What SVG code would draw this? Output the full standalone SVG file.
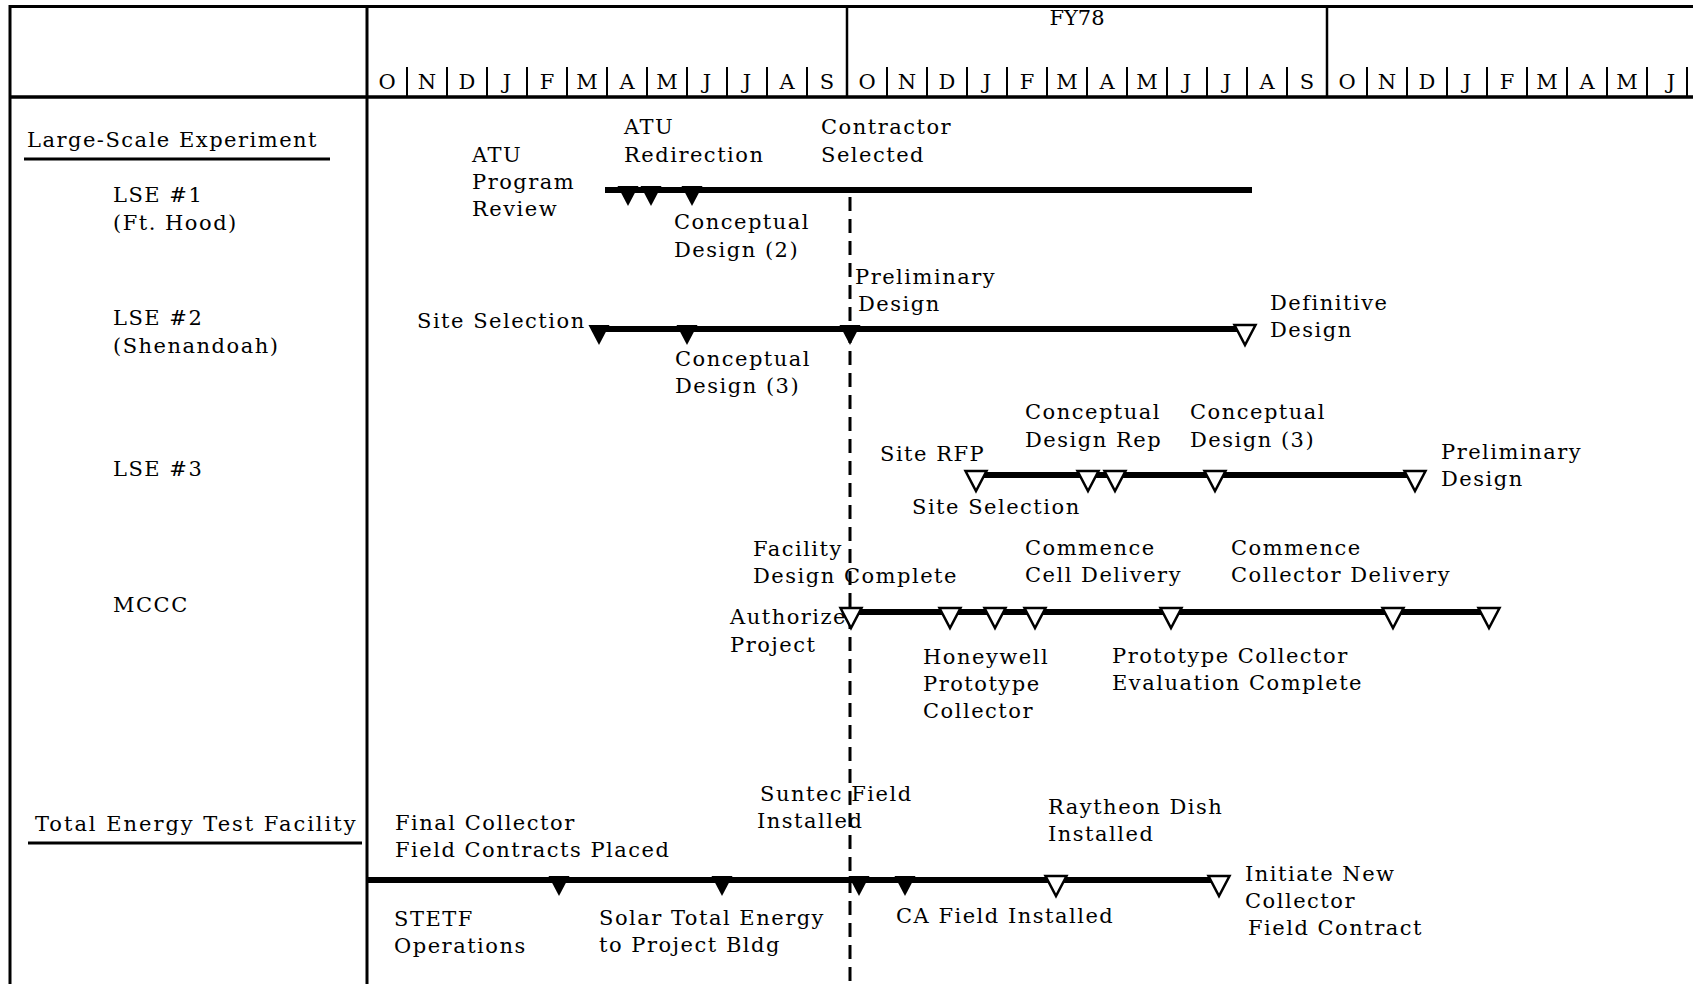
<svg xmlns="http://www.w3.org/2000/svg" xmlns:xlink="http://www.w3.org/1999/xlink" width="1693" height="984" viewBox="0 0 1693 984">
<style>
text{font-family:"DejaVu Serif","Liberation Serif",serif;font-size:21px;letter-spacing:1.5px;fill:#000}
.m{text-anchor:middle;letter-spacing:0}
.grid{stroke:#000;fill:none}
.bar{stroke:#000;stroke-width:6;fill:none}
.f{fill:#000}
.o{fill:#fff;stroke:#000;stroke-width:2.5}
.dash{stroke:#000;stroke-width:3;stroke-dasharray:14 8;fill:none}
</style>
<defs>
<path id="tri" d="M-10.5,-4 L10.5,-4 L0,16 Z"/>
</defs>
<rect width="1693" height="984" fill="#fff"/>
<g id="grid" class="grid">
<line x1="10" y1="6.5" x2="1693" y2="6.5" stroke-width="3"/>
<line x1="10" y1="5" x2="10" y2="984" stroke-width="3"/>
<line x1="10" y1="97" x2="1693" y2="97" stroke-width="3.5"/>
<line x1="367" y1="5" x2="367" y2="984" stroke-width="3"/>
<line x1="847" y1="5" x2="847" y2="97" stroke-width="2.5"/>
<line x1="1327" y1="5" x2="1327" y2="97" stroke-width="2.5"/>
<path stroke-width="2" d="M407,67V97M447,67V97M487,67V97M527,67V97M567,67V97M607,67V97M647,67V97M687,67V97M727,67V97M767,67V97M807,67V97M887,67V97M927,67V97M967,67V97M1007,67V97M1047,67V97M1087,67V97M1127,67V97M1167,67V97M1207,67V97M1247,67V97M1287,67V97M1367,67V97M1407,67V97M1447,67V97M1487,67V97M1527,67V97M1567,67V97M1607,67V97M1647,67V97M1687,67V97"/>
</g>
<g id="header">
<text x="1077" y="25" class="m">FY78</text>
<text class="m" y="89"><tspan x="387">O</tspan><tspan x="427">N</tspan><tspan x="467">D</tspan><tspan x="507">J</tspan><tspan x="547">F</tspan><tspan x="587">M</tspan><tspan x="627">A</tspan><tspan x="667">M</tspan><tspan x="707">J</tspan><tspan x="747">J</tspan><tspan x="787">A</tspan><tspan x="827">S</tspan><tspan x="867">O</tspan><tspan x="907">N</tspan><tspan x="947">D</tspan><tspan x="987">J</tspan><tspan x="1027">F</tspan><tspan x="1067">M</tspan><tspan x="1107">A</tspan><tspan x="1147">M</tspan><tspan x="1187">J</tspan><tspan x="1227">J</tspan><tspan x="1267">A</tspan><tspan x="1307">S</tspan><tspan x="1347">O</tspan><tspan x="1387">N</tspan><tspan x="1427">D</tspan><tspan x="1467">J</tspan><tspan x="1507">F</tspan><tspan x="1547">M</tspan><tspan x="1587">A</tspan><tspan x="1627">M</tspan><tspan x="1671">J</tspan></text>
</g>
<g id="labels">
<text x="27" y="147">Large-Scale Experiment</text>
<line x1="24" y1="159" x2="330" y2="159" stroke="#000" stroke-width="3"/>
<text x="113" y="202">LSE #1</text>
<text x="113" y="230">(Ft. Hood)</text>
<text x="113" y="325">LSE #2</text>
<text x="113" y="353">(Shenandoah)</text>
<text x="113" y="476">LSE #3</text>
<text x="113" y="612">MCCC</text>
<text x="35" y="831" textLength="322">Total Energy Test Facility</text>
<line x1="28" y1="843" x2="362" y2="843" stroke="#000" stroke-width="3"/>
</g>
<g id="connectors">
<line class="dash" x1="850" y1="197" x2="850" y2="984"/>
<line class="bar" x1="605" y1="190" x2="1252" y2="190"/>
<line class="bar" x1="592" y1="329" x2="1242" y2="329"/>
<line class="bar" x1="975" y1="475" x2="1415" y2="475"/>
<line class="bar" x1="844" y1="612" x2="1490" y2="612"/>
<line class="bar" x1="367" y1="880" x2="1220" y2="880"/>
</g>
<g id="lse1">
<use href="#tri" class="f" x="628" y="190"/>
<use href="#tri" class="f" x="651" y="190"/>
<use href="#tri" class="f" x="692" y="190"/>
<text x="472" y="162">ATU</text>
<text x="472" y="189">Program</text>
<text x="472" y="216">Review</text>
<text x="624" y="134">ATU</text>
<text x="624" y="162">Redirection</text>
<text x="821" y="134">Contractor</text>
<text x="821" y="162">Selected</text>
<text x="674" y="229">Conceptual</text>
<text x="674" y="257">Design (2)</text>
</g>
<g id="lse2">
<use href="#tri" class="f" x="599" y="329"/>
<use href="#tri" class="f" x="687" y="329"/>
<use href="#tri" class="f" x="850" y="329"/>
<use href="#tri" class="o" x="1245" y="329"/>
<text x="417" y="328">Site Selection</text>
<text x="855" y="284">Preliminary</text>
<text x="858" y="311">Design</text>
<text x="1270" y="310">Definitive</text>
<text x="1270" y="337">Design</text>
<text x="675" y="366">Conceptual</text>
<text x="675" y="393">Design (3)</text>
</g>
<g id="lse3">
<use href="#tri" class="o" x="976" y="475"/>
<use href="#tri" class="o" x="1088" y="475"/>
<use href="#tri" class="o" x="1115" y="475"/>
<use href="#tri" class="o" x="1215" y="475"/>
<use href="#tri" class="o" x="1415" y="475"/>
<text x="880" y="461">Site RFP</text>
<text x="912" y="514">Site Selection</text>
<text x="1025" y="419">Conceptual</text>
<text x="1025" y="447">Design Rep</text>
<text x="1190" y="419">Conceptual</text>
<text x="1190" y="447">Design (3)</text>
<text x="1441" y="459">Preliminary</text>
<text x="1441" y="486">Design</text>
</g>
<g id="mccc">
<use href="#tri" class="o" x="851" y="612"/>
<use href="#tri" class="o" x="950" y="612"/>
<use href="#tri" class="o" x="995" y="612"/>
<use href="#tri" class="o" x="1035" y="612"/>
<use href="#tri" class="o" x="1171" y="612"/>
<use href="#tri" class="o" x="1393" y="612"/>
<use href="#tri" class="o" x="1489" y="612"/>
<text x="753" y="556">Facility</text>
<text x="753" y="583">Design Complete</text>
<text x="1025" y="555">Commence</text>
<text x="1025" y="582">Cell Delivery</text>
<text x="1231" y="555">Commence</text>
<text x="1231" y="582">Collector Delivery</text>
<text x="730" y="624">Authorize</text>
<text x="730" y="652">Project</text>
<text x="923" y="664">Honeywell</text>
<text x="923" y="691">Prototype</text>
<text x="923" y="718">Collector</text>
<text x="1112" y="663">Prototype Collector</text>
<text x="1112" y="690">Evaluation Complete</text>
</g>
<g id="tetf">
<use href="#tri" class="f" x="559" y="880"/>
<use href="#tri" class="f" x="722" y="880"/>
<use href="#tri" class="f" x="859" y="880"/>
<use href="#tri" class="f" x="905" y="880"/>
<use href="#tri" class="o" x="1056" y="880"/>
<use href="#tri" class="o" x="1219" y="880"/>
<text x="395" y="830">Final Collector</text>
<text x="395" y="857">Field Contracts Placed</text>
<text x="760" y="801">Suntec Field</text>
<text x="757" y="828">Installed</text>
<text x="1048" y="814">Raytheon Dish</text>
<text x="1048" y="841">Installed</text>
<text x="1245" y="881">Initiate New</text>
<text x="1245" y="908">Collector</text>
<text x="1248" y="935">Field Contract</text>
<text x="394" y="926">STETF</text>
<text x="394" y="953">Operations</text>
<text x="599" y="925">Solar Total Energy</text>
<text x="599" y="952">to Project Bldg</text>
<text x="896" y="923">CA Field Installed</text>
</g>
</svg>
